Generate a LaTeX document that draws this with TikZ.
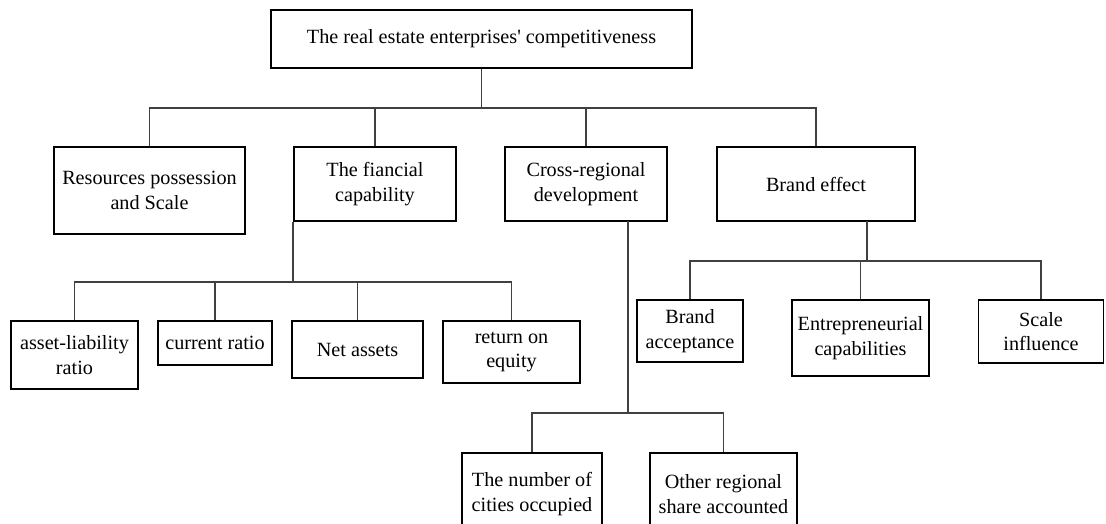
\documentclass[tikz,border=0pt]{standalone}
\usepackage{fontspec}
\newfontfamily\treefont{Liberation Serif}
\begin{document}
\begin{tikzpicture}[x=1pt,y=1pt,
  box/.style={draw=black,line width=1.9pt,inner sep=0pt,align=center,
    font=\treefont\fontsize{20.2}{24.5}\selectfont},
  conn/.style={draw=black!75,line width=1.2pt}]
\useasboundingbox (0,0) rectangle (1106,-524);
\clip (0,0) rectangle (1106,-524);

% root
\node[box,minimum width=421,minimum height=58] (top) at (481.5,-39)
  {The real estate enterprises\symbol{39} competitiveness};

% first level
\node[box,minimum width=191,minimum height=87] (res) at (149.5,-190.5)
  {Resources possession\\and Scale};
\node[box,minimum width=162,minimum height=74] (fin) at (375,-184)
  {The fiancial\\capability};
\node[box,minimum width=162,minimum height=74] (cross) at (586,-184)
  {Cross-regional\\development};
\node[box,minimum width=198,minimum height=74] (brand) at (816,-184)
  {Brand effect};

% financial indicators
\node[box,minimum width=127,minimum height=68] (al) at (74.5,-355)
  {asset-liability\\ratio};
\node[box,minimum width=114,minimum height=44] (cr) at (215,-343)
  {current ratio};
\node[box,minimum width=131,minimum height=57] (na) at (357.5,-349.5)
  {Net assets};
\node[box,minimum width=137,minimum height=62] (roe) at (511.5,-352)
  {return on\\equity};

% brand indicators
\node[box,minimum width=106,minimum height=62] (ba) at (690,-331)
  {Brand\\acceptance};
\node[box,minimum width=137,minimum height=76] (ec) at (860.5,-338)
  {Entrepreneurial\\capabilities};
\node[box,minimum width=125,minimum height=63] (si) at (1041,-331.5)
  {Scale\\influence};

% cross-regional indicators
\node[box,minimum width=140,minimum height=82] (cities) at (532,-494)
  {The number of\\cities occupied};
\node[box,minimum width=147,minimum height=82] (other) at (723.5,-494)
  {Other regional\\share accounted};

% bus levels and branch origins
\coordinate (busA) at (0,-108);
\coordinate (busF) at (0,-282);
\coordinate (busB) at (0,-261);
\coordinate (busC) at (0,-413);
\coordinate (finout) at (fin.south west);
\coordinate (crossout) at (628,-221);
\coordinate (brandout) at (867,-221);

% connectors
\foreach \c in {res,fin,cross,brand}
  \draw[conn] (top.south) -- (top.south |- busA) -| (\c.north);
\foreach \c in {al,cr,na,roe}
  \draw[conn] (finout) -- (finout |- busF) -| (\c.north);
\foreach \c in {ba,ec,si}
  \draw[conn] (brandout) -- (brandout |- busB) -| (\c.north);
\foreach \c in {cities,other}
  \draw[conn] (crossout) -- (crossout |- busC) -| (\c.north);
\end{tikzpicture}
\end{document}
